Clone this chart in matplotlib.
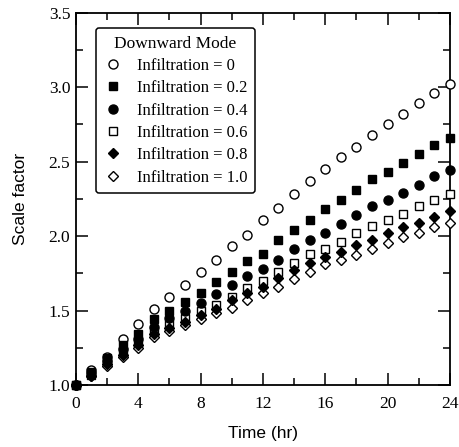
import numpy as np
import matplotlib
matplotlib.use('Agg')
import matplotlib.pyplot as plt
from matplotlib.ticker import MultipleLocator

plt.rcParams['font.family'] = ['Liberation Serif', 'DejaVu Serif']

hours = list(range(25))

# Scale factor for each infiltration ratio (downward mode)
inf_00 = [1.00, 1.10, 1.19, 1.31, 1.41, 1.51, 1.59, 1.67, 1.76, 1.84, 1.93, 2.01, 2.11,
          2.19, 2.28, 2.37, 2.45, 2.53, 2.60, 2.68, 2.75, 2.82, 2.89, 2.96, 3.02]
inf_02 = [1.00, 1.09, 1.18, 1.27, 1.34, 1.44, 1.50, 1.56, 1.62, 1.69, 1.76, 1.83, 1.88,
          1.97, 2.04, 2.11, 2.18, 2.24, 2.31, 2.38, 2.43, 2.49, 2.55, 2.61, 2.66]
inf_04 = [1.00, 1.08, 1.16, 1.24, 1.31, 1.39, 1.45, 1.50, 1.55, 1.61, 1.67, 1.73, 1.78,
          1.84, 1.91, 1.97, 2.02, 2.08, 2.14, 2.20, 2.24, 2.29, 2.34, 2.40, 2.44]
inf_06 = [1.00, 1.07, 1.15, 1.22, 1.29, 1.36, 1.41, 1.45, 1.50, 1.54, 1.59, 1.65, 1.70,
          1.76, 1.82, 1.88, 1.91, 1.96, 2.02, 2.07, 2.11, 2.15, 2.20, 2.24, 2.28]
inf_08 = [1.00, 1.06, 1.14, 1.20, 1.27, 1.34, 1.38, 1.42, 1.47, 1.51, 1.57, 1.62, 1.66,
          1.72, 1.77, 1.82, 1.86, 1.89, 1.94, 1.97, 2.02, 2.06, 2.09, 2.13, 2.17]
inf_10 = [1.00, 1.06, 1.13, 1.19, 1.25, 1.32, 1.36, 1.40, 1.44, 1.48, 1.52, 1.57, 1.62,
          1.66, 1.71, 1.76, 1.81, 1.84, 1.87, 1.91, 1.95, 1.99, 2.02, 2.06, 2.09]

labels = ['Infiltration = 0', 'Infiltration = 0.2', 'Infiltration = 0.4',
          'Infiltration = 0.6', 'Infiltration = 0.8', 'Infiltration = 1.0']
series = [inf_00, inf_02, inf_04, inf_06, inf_08, inf_10]
markers = ['o', 's', 'o', 's', 'D', 'D']
faces = ['white', 'black', 'black', 'white', 'black', 'white']
sizes = [6.5, 6, 6.5, 6, 4.8, 4.8]

fig = plt.figure(figsize=(4.6, 4.47), dpi=100)
ax = fig.add_axes([0.165, 0.1387, 0.813, 0.8333])

for y, m, fc, ms, lab in zip(series, markers, faces, sizes, labels):
    # filled symbols sit on top of the open ones
    z = 4 if fc == 'black' else 3
    ax.plot(hours, y, linestyle='none', marker=m, markerfacecolor=fc,
            markeredgecolor='black', markeredgewidth=1.0, markersize=ms,
            label=lab, clip_on=False, zorder=z)

ax.set_xlim(0, 24)
ax.set_ylim(1.0, 3.5)
ax.xaxis.set_major_locator(MultipleLocator(4))
ax.xaxis.set_minor_locator(MultipleLocator(2))
ax.yaxis.set_major_locator(MultipleLocator(0.5))
ax.yaxis.set_minor_locator(MultipleLocator(0.25))
ax.yaxis.set_major_formatter(matplotlib.ticker.FormatStrFormatter('%.1f'))
ax.tick_params(which='both', direction='in', top=True, right=True, labelsize=12.5, width=1.1)
ax.tick_params(which='major', length=8.5)
ax.tick_params(which='minor', length=5)
ax.tick_params(axis='x', which='both', pad=8)
ax.tick_params(axis='y', which='both', pad=4)
for s in ax.spines.values():
    s.set_linewidth(1.3)

ax.set_xlabel('Time (hr)', family='Liberation Sans', fontsize=12.5, labelpad=10)
ax.set_ylabel('Scale factor', family='Liberation Sans', fontsize=12.5, labelpad=15)

leg = ax.legend(loc='upper left', bbox_to_anchor=(0.053, 0.958), fontsize=12,
                title='Downward Mode', title_fontsize=12.5, frameon=True, fancybox=True,
                handlelength=1.2, handletextpad=0.85, labelspacing=0.38, borderpad=0.45,
                borderaxespad=0, edgecolor='black', framealpha=1)
leg.get_frame().set_linewidth(1.1)

fig.savefig('out.png', dpi=100)
